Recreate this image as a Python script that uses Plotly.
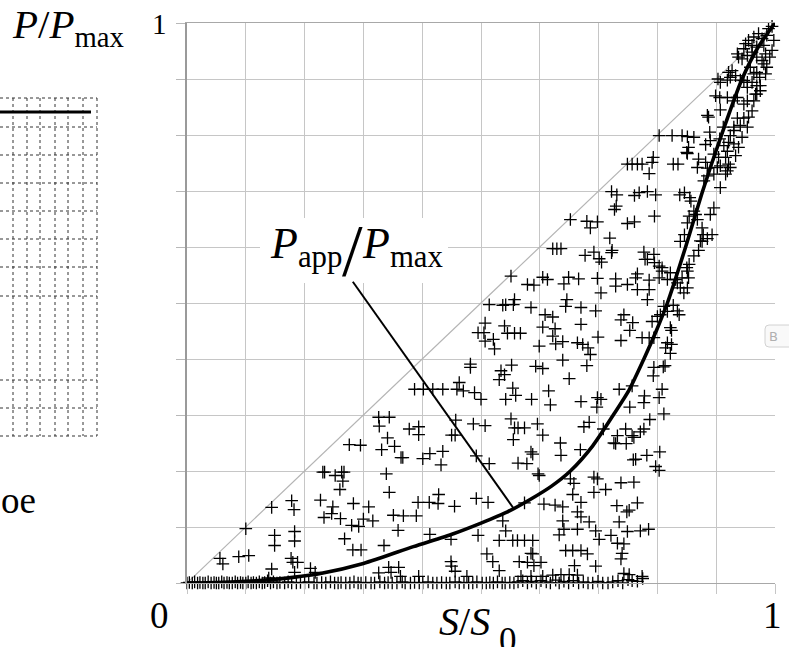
import plotly.graph_objects as go

# ---------------- data ----------------
# approximation curve P_app/P_max versus S/S0
curve_s = [0.0, 0.05, 0.10, 0.13, 0.18, 0.227, 0.30, 0.385, 0.453, 0.50, 0.545, 0.585,
           0.62, 0.652, 0.69, 0.725, 0.752, 0.777, 0.798, 0.817, 0.848, 0.877, 0.909,
           0.944, 0.972, 1.0]
curve_p = [0.0, 0.001, 0.003, 0.005, 0.010, 0.017, 0.035, 0.065, 0.088, 0.107, 0.127, 0.150,
           0.173, 0.200, 0.245, 0.300, 0.345, 0.400, 0.450, 0.500, 0.600, 0.700, 0.800,
           0.900, 0.958, 1.0]

# reference diagonal P = S
diag_s = [0.0, 1.0]
diag_p = [0.0, 1.0]

# points lying on the bottom row (P = 0)
row_s = [0.0, 0.004, 0.009, 0.013, 0.018, 0.022, 0.027, 0.031, 0.036, 0.041, 0.046, 0.05,
         0.054, 0.059, 0.063, 0.068, 0.072, 0.077, 0.082, 0.086, 0.091, 0.095, 0.1, 0.104,
         0.109, 0.113, 0.118, 0.123, 0.128, 0.132, 0.137, 0.142, 0.147, 0.153, 0.158, 0.166,
         0.172, 0.178, 0.186, 0.193, 0.2, 0.207, 0.216, 0.221, 0.229, 0.236, 0.244, 0.251,
         0.257, 0.262, 0.27, 0.277, 0.284, 0.291, 0.296, 0.304, 0.313, 0.319, 0.328, 0.336,
         0.342, 0.349, 0.357, 0.366, 0.371, 0.38, 0.387, 0.395, 0.401, 0.41, 0.418, 0.425,
         0.433, 0.441, 0.447, 0.456, 0.463, 0.471, 0.479, 0.486, 0.493, 0.502, 0.509, 0.515,
         0.521, 0.528, 0.536, 0.541, 0.549, 0.556, 0.563, 0.571, 0.579, 0.586, 0.594, 0.602,
         0.611, 0.618, 0.627, 0.633, 0.641, 0.649, 0.657, 0.666, 0.674, 0.682, 0.69, 0.699,
         0.707, 0.716, 0.724, 0.733, 0.741, 0.75, 0.757, 0.766, 0.775]
row_p = [0.0, 0.001, 0.0, 0.002, 0.0, 0.001, 0.0, 0.0, 0.002, 0.0, 0.001, 0.0,
         0.0, 0.002, 0.0, 0.001, 0.0, 0.0, 0.002, 0.0, 0.001, 0.0, 0.0, 0.002,
         0.0, 0.001, 0.0, 0.002, 0.0, 0.001, 0.004, 0.0, 0.002, 0.0, 0.001, 0.0,
         0.002, 0.0, 0.0, 0.001, 0.0, 0.002, 0.0, 0.0, 0.001, 0.0, 0.002, 0.0,
         0.0, 0.001, 0.0, 0.0, 0.002, 0.0, 0.0, 0.001, 0.0, 0.0, 0.002, 0.0,
         0.001, 0.0, 0.0, 0.002, 0.0, 0.0, 0.001, 0.0, 0.0, 0.002, 0.0, 0.0,
         0.001, 0.0, 0.0, 0.002, 0.0, 0.001, 0.0, 0.0, 0.002, 0.0, 0.0, 0.001,
         0.0, 0.002, 0.0, 0.0, 0.001, 0.0, 0.002, 0.004, 0.0, 0.003, 0.0, 0.004,
         0.002, 0.0, 0.005, 0.0, 0.003, 0.0, 0.004, 0.0, 0.002, 0.0, 0.0, 0.003,
         0.0, 0.0, 0.002, 0.004, 0.0, 0.006, 0.004, 0.003, 0.008]

# scattered points, lower-left part of the triangle  [S/S0, P/Pmax]
cloud_low = [
    [0.056, 0.044], [0.061, 0.034], [0.088, 0.047], [0.105, 0.049], [0.100, 0.097],
    [0.144, 0.135], [0.149, 0.085], [0.149, 0.067], [0.144, 0.025], [0.139, 0.009],
    [0.178, 0.147], [0.182, 0.131], [0.183, 0.092], [0.183, 0.075], [0.177, 0.044],
    [0.180, 0.037], [0.188, 0.037], [0.183, 0.019], [0.210, 0.026], [0.218, 0.019],
    [0.227, 0.148], [0.231, 0.198], [0.234, 0.198], [0.233, 0.117], [0.248, 0.136],
    [0.246, 0.124], [0.252, 0.192], [0.263, 0.198], [0.267, 0.198], [0.265, 0.182],
    [0.260, 0.167], [0.261, 0.115], [0.276, 0.247], [0.295, 0.246], [0.283, 0.142],
    [0.309, 0.136], [0.280, 0.103], [0.292, 0.101], [0.300, 0.114], [0.316, 0.111],
    [0.268, 0.079], [0.282, 0.059], [0.296, 0.059], [0.326, 0.296], [0.344, 0.296],
    [0.327, 0.280], [0.341, 0.259], [0.353, 0.244], [0.331, 0.238], [0.364, 0.224],
    [0.367, 0.224], [0.339, 0.195], [0.344, 0.162], [0.351, 0.121], [0.368, 0.120],
    [0.390, 0.120], [0.359, 0.094], [0.335, 0.067], [0.326, 0.018], [0.343, 0.028],
    [0.360, 0.028], [0.347, 0.019], [0.363, 0.012], [0.378, 0.275], [0.394, 0.279],
    [0.394, 0.265], [0.387, 0.346], [0.402, 0.346], [0.418, 0.346], [0.435, 0.346],
    [0.401, 0.222], [0.413, 0.231], [0.435, 0.235], [0.432, 0.211], [0.393, 0.144],
    [0.412, 0.144], [0.427, 0.142], [0.428, 0.158], [0.455, 0.137], [0.413, 0.087],
    [0.394, 0.012], [0.449, 0.078], [0.449, 0.038], [0.450, 0.030], [0.456, 0.021],
    [0.476, 0.012], [0.459, 0.346], [0.470, 0.343], [0.463, 0.358], [0.457, 0.291],
    [0.450, 0.264], [0.456, 0.264], [0.482, 0.391], [0.482, 0.385], [0.489, 0.340],
    [0.487, 0.284], [0.492, 0.227], [0.495, 0.447], [0.492, 0.151], [0.495, 0.085],
]

# scattered points, lower-right part (S/S0 0.5 .. 0.85, P/Pmax 0 .. 0.5)
cloud_mid = [
    [0.514, 0.497], [0.537, 0.496], [0.542, 0.497], [0.555, 0.497], [0.585, 0.492],
    [0.609, 0.479], [0.622, 0.475], [0.644, 0.494], [0.670, 0.492], [0.695, 0.486],
    [0.507, 0.464], [0.505, 0.447], [0.507, 0.432], [0.521, 0.435], [0.523, 0.418],
    [0.540, 0.459], [0.545, 0.446], [0.557, 0.446], [0.567, 0.446], [0.605, 0.457],
    [0.626, 0.454], [0.622, 0.441], [0.670, 0.462], [0.599, 0.423], [0.627, 0.427],
    [0.639, 0.431], [0.664, 0.429], [0.673, 0.426], [0.682, 0.420], [0.686, 0.408],
    [0.699, 0.439], [0.738, 0.470], [0.743, 0.479], [0.753, 0.451], [0.758, 0.465],
    [0.738, 0.433], [0.774, 0.438], [0.786, 0.438], [0.794, 0.438], [0.791, 0.467],
    [0.800, 0.476], [0.805, 0.479], [0.811, 0.494], [0.817, 0.485], [0.827, 0.496],
    [0.834, 0.486], [0.837, 0.479], [0.822, 0.456], [0.824, 0.451], [0.817, 0.429],
    [0.824, 0.426], [0.814, 0.420], [0.822, 0.410], [0.552, 0.389], [0.534, 0.379],
    [0.540, 0.372], [0.531, 0.363], [0.593, 0.387], [0.605, 0.383], [0.639, 0.398],
    [0.680, 0.388], [0.650, 0.365], [0.554, 0.348], [0.542, 0.328], [0.559, 0.335],
    [0.586, 0.328], [0.615, 0.343], [0.618, 0.318], [0.670, 0.324], [0.698, 0.331],
    [0.704, 0.328], [0.697, 0.314], [0.735, 0.346], [0.757, 0.352], [0.753, 0.314],
    [0.778, 0.334], [0.777, 0.322], [0.794, 0.385], [0.810, 0.386], [0.813, 0.388],
    [0.793, 0.370], [0.808, 0.346], [0.803, 0.331], [0.811, 0.302], [0.500, 0.328],
    [0.507, 0.281], [0.551, 0.293], [0.557, 0.277], [0.563, 0.277], [0.574, 0.277],
    [0.555, 0.256], [0.596, 0.284], [0.605, 0.264], [0.635, 0.250], [0.636, 0.228],
    [0.669, 0.238], [0.585, 0.234], [0.588, 0.230], [0.675, 0.279], [0.684, 0.287],
    [0.708, 0.275], [0.732, 0.263], [0.726, 0.250], [0.729, 0.249], [0.747, 0.249],
    [0.757, 0.263], [0.760, 0.260], [0.771, 0.270], [0.777, 0.275], [0.787, 0.292],
    [0.746, 0.275], [0.759, 0.220], [0.763, 0.221], [0.782, 0.228], [0.804, 0.234],
    [0.797, 0.208], [0.803, 0.201], [0.514, 0.213], [0.563, 0.214], [0.578, 0.213],
    [0.597, 0.195], [0.599, 0.192], [0.652, 0.186], [0.658, 0.178], [0.692, 0.189],
    [0.698, 0.186], [0.712, 0.167], [0.692, 0.162], [0.656, 0.158], [0.738, 0.179],
    [0.760, 0.180], [0.512, 0.144], [0.574, 0.143], [0.607, 0.141], [0.626, 0.139],
    [0.639, 0.136], [0.670, 0.144], [0.664, 0.127], [0.670, 0.118], [0.684, 0.109],
    [0.639, 0.111], [0.731, 0.138], [0.748, 0.127], [0.752, 0.130], [0.766, 0.143],
    [0.735, 0.109], [0.537, 0.111], [0.542, 0.093], [0.633, 0.086], [0.641, 0.096],
    [0.664, 0.096], [0.695, 0.093], [0.701, 0.078], [0.721, 0.085], [0.732, 0.071],
    [0.743, 0.070], [0.749, 0.092], [0.771, 0.093], [0.785, 0.096], [0.531, 0.076],
    [0.554, 0.076], [0.562, 0.076], [0.574, 0.076], [0.588, 0.076], [0.510, 0.052],
    [0.520, 0.038], [0.565, 0.038], [0.579, 0.037], [0.590, 0.031], [0.602, 0.037],
    [0.585, 0.053], [0.588, 0.052], [0.644, 0.058], [0.656, 0.058], [0.670, 0.058],
    [0.681, 0.052], [0.740, 0.053], [0.738, 0.043], [0.659, 0.031], [0.695, 0.030],
    [0.531, 0.022], [0.568, 0.012], [0.585, 0.012], [0.605, 0.012], [0.622, 0.014],
    [0.636, 0.015], [0.650, 0.015], [0.664, 0.014], [0.743, 0.017], [0.752, 0.015],
    [0.774, 0.012],
]

# scattered points, upper-right part (P/Pmax 0.5 .. 1)
cloud_high = [
    [0.551, 0.548], [0.579, 0.533], [0.590, 0.532], [0.605, 0.546], [0.613, 0.542],
    [0.641, 0.534], [0.649, 0.546], [0.666, 0.543], [0.698, 0.544], [0.704, 0.518],
    [0.729, 0.543], [0.729, 0.530], [0.749, 0.533], [0.763, 0.545], [0.766, 0.524],
    [0.786, 0.524], [0.783, 0.506], [0.557, 0.506], [0.646, 0.506], [0.622, 0.597],
    [0.629, 0.597], [0.636, 0.597], [0.677, 0.585], [0.692, 0.591], [0.701, 0.579],
    [0.705, 0.573], [0.723, 0.594], [0.722, 0.590], [0.777, 0.591], [0.779, 0.578],
    [0.783, 0.578], [0.794, 0.587], [0.795, 0.572], [0.803, 0.566], [0.808, 0.563],
    [0.766, 0.552], [0.786, 0.541], [0.803, 0.545], [0.817, 0.542], [0.808, 0.557],
    [0.822, 0.554], [0.831, 0.542], [0.834, 0.536], [0.839, 0.527], [0.845, 0.518],
    [0.851, 0.527], [0.853, 0.545], [0.851, 0.557], [0.719, 0.616], [0.652, 0.649],
    [0.680, 0.646], [0.698, 0.645], [0.686, 0.634], [0.795, 0.655], [0.761, 0.645],
    [0.749, 0.642], [0.730, 0.673], [0.727, 0.667], [0.722, 0.699], [0.731, 0.693],
    [0.761, 0.692], [0.769, 0.697], [0.783, 0.699], [0.797, 0.693], [0.838, 0.693],
    [0.855, 0.688], [0.857, 0.682], [0.846, 0.697], [0.854, 0.655], [0.862, 0.664],
    [0.868, 0.649], [0.876, 0.634], [0.893, 0.622], [0.885, 0.615], [0.876, 0.610],
    [0.839, 0.610], [0.846, 0.622], [0.851, 0.643], [0.865, 0.658], [0.749, 0.748],
    [0.757, 0.748], [0.766, 0.748], [0.774, 0.748], [0.791, 0.751], [0.786, 0.731],
    [0.793, 0.760], [0.827, 0.748], [0.835, 0.748], [0.803, 0.799], [0.825, 0.799],
    [0.842, 0.799], [0.851, 0.797], [0.862, 0.796], [0.853, 0.778], [0.850, 0.769],
    [0.851, 0.767], [0.870, 0.757], [0.868, 0.742], [0.882, 0.751], [0.885, 0.741],
    [0.885, 0.727], [0.879, 0.718], [0.896, 0.730], [0.902, 0.742], [0.907, 0.745],
    [0.904, 0.760], [0.896, 0.766], [0.882, 0.783], [0.890, 0.790], [0.889, 0.805],
    [0.885, 0.835], [0.887, 0.832], [0.906, 0.793], [0.913, 0.781], [0.919, 0.771],
    [0.921, 0.787], [0.930, 0.784], [0.924, 0.799], [0.930, 0.808], [0.916, 0.760],
    [0.921, 0.748], [0.919, 0.736], [0.912, 0.814], [0.930, 0.814], [0.947, 0.830],
    [0.941, 0.817], [0.936, 0.830], [0.899, 0.870], [0.906, 0.867], [0.919, 0.867],
    [0.930, 0.861], [0.936, 0.867], [0.947, 0.855], [0.953, 0.861], [0.907, 0.845],
    [0.903, 0.900], [0.907, 0.894], [0.919, 0.898], [0.921, 0.912], [0.927, 0.915],
    [0.933, 0.906], [0.924, 0.903], [0.941, 0.898], [0.947, 0.897], [0.953, 0.894],
    [0.953, 0.885], [0.958, 0.921], [0.964, 0.909], [0.961, 0.894], [0.969, 0.912],
    [0.969, 0.888], [0.975, 0.879], [0.967, 0.873], [0.974, 0.903], [0.936, 0.945],
    [0.938, 0.939], [0.944, 0.936], [0.953, 0.942], [0.961, 0.948], [0.969, 0.939],
    [0.978, 0.933], [0.984, 0.945], [0.981, 0.927], [0.950, 0.963], [0.955, 0.969],
    [0.964, 0.975], [0.972, 0.981], [0.978, 0.972], [0.986, 0.978], [0.989, 0.990],
    [0.995, 0.994], [0.981, 0.960], [0.969, 0.957], [0.961, 0.960], [0.947, 0.954],
]

# points hugging the right side of the curve
curve_side = [
    [0.842, 0.545], [0.850, 0.563], [0.854, 0.569], [0.862, 0.584], [0.870, 0.594],
    [0.873, 0.611], [0.878, 0.622], [0.890, 0.658], [0.896, 0.670], [0.907, 0.706],
    [0.916, 0.730], [0.924, 0.742], [0.933, 0.763], [0.938, 0.778], [0.944, 0.796],
    [0.953, 0.814], [0.955, 0.832], [0.961, 0.843], [0.964, 0.861], [0.969, 0.873],
    [0.975, 0.888], [0.984, 0.909], [0.986, 0.921], [0.991, 0.939], [0.995, 0.951],
    [0.998, 0.969],
]

pts = cloud_low + cloud_mid + cloud_high + curve_side
cloud_s = [p[0] for p in pts]
cloud_p = [p[1] for p in pts]

# ---------------- figure ----------------
W, H = 789, 647
PL, PR, PT, PB = 187, 775, 23, 583   # plot box in pixels


def pxx(xp):
    return xp / W


def pyy(yp):
    return (H - yp) / H


SERIF = "Liberation Serif, Times New Roman, serif"
GRID = "#c6c6c6"

fig = go.Figure()

fig.add_trace(go.Scatter(x=diag_s, y=diag_p, mode="lines",
                         line=dict(color="#b4b4b4", width=1.2),
                         hoverinfo="skip", showlegend=False))

marker = dict(symbol="cross-thin", size=9, color="black",
              line=dict(color="black", width=1.3))
fig.add_trace(go.Scatter(x=row_s, y=row_p, mode="markers", marker=marker,
                         cliponaxis=False, showlegend=False))
fig.add_trace(go.Scatter(x=cloud_s, y=cloud_p, mode="markers", marker=marker,
                         cliponaxis=False, showlegend=False))

fig.add_trace(go.Scatter(x=curve_s, y=curve_p, mode="lines",
                         line=dict(color="black", width=3.6, shape="spline", smoothing=0.7),
                         cliponaxis=False, showlegend=False))

shapes = []
# white backdrop behind the curve label
shapes.append(dict(type="rect", xref="paper", yref="paper",
                   x0=pxx(260), x1=pxx(448), y0=pyy(283), y1=pyy(218),
                   fillcolor="white", line=dict(width=0), layer="above"))
# leader line from label to curve
shapes.append(dict(type="line", xref="x", yref="y",
                   x0=0.282, y0=0.538, x1=0.555, y1=0.134,
                   line=dict(color="black", width=2), layer="above"))

# fragment of a dotted table at the left edge
tab_rows = [98, 127, 155, 183, 211, 239, 267, 296, 380, 408, 436]
tab_cols = [13, 27, 40, 55, 68, 83, 97]
for yr in tab_rows:
    shapes.append(dict(type="line", xref="paper", yref="paper",
                       x0=pxx(0), x1=pxx(97), y0=pyy(yr), y1=pyy(yr),
                       line=dict(color="#333", width=1, dash="dot")))
for xc in tab_cols:
    shapes.append(dict(type="line", xref="paper", yref="paper",
                       x0=pxx(xc), x1=pxx(xc), y0=pyy(98), y1=pyy(436),
                       line=dict(color="#333", width=1, dash="dot")))
shapes.append(dict(type="line", xref="paper", yref="paper",
                   x0=pxx(0), x1=pxx(91), y0=pyy(112), y1=pyy(112),
                   line=dict(color="black", width=3)))

# small button fragment at the right edge
bx0, bx1, by0, by1, rr = 765, 800, 325, 347, 4
shapes.append(dict(type="path", xref="paper", yref="paper",
                   path=(f"M {pxx(bx0+rr)},{pyy(by0)} L {pxx(bx1)},{pyy(by0)} "
                         f"L {pxx(bx1)},{pyy(by1)} L {pxx(bx0+rr)},{pyy(by1)} "
                         f"Q {pxx(bx0)},{pyy(by1)} {pxx(bx0)},{pyy(by1-rr)} "
                         f"L {pxx(bx0)},{pyy(by0+rr)} Q {pxx(bx0)},{pyy(by0)} {pxx(bx0+rr)},{pyy(by0)} Z"),
                   fillcolor="rgba(248,248,248,0.9)", line=dict(color="#d2d2d2", width=1),
                   layer="above"))


def ann(text, x, y, size, xanchor="center", yanchor="middle", color="black", family=SERIF):
    return dict(text=text, x=pxx(x), y=pyy(y), xref="paper", yref="paper",
                xanchor=xanchor, yanchor=yanchor, showarrow=False,
                font=dict(family=family, size=size, color=color))


annotations = [
    ann("<i>P</i>/<i>P</i><sub>max</sub>", 10, 27, 41, xanchor="left"),
    ann("1", 159, 24, 29),
    ann("0", 159, 615, 37),
    ann("1", 772, 615, 37),
    # S / S0
    ann("<i>S</i>/<i>S</i>", 437, 621, 40, xanchor="left"),
    ann("0", 497, 640, 35, xanchor="left"),
    # P_app / P_max label
    ann("<i>P</i><sub>app</sub>", 268, 246, 44, xanchor="left"),
    ann("/", 352, 251, 74),
    ann("<i>P</i><sub>max</sub>", 360, 246, 44, xanchor="left"),
    ann("oe", -1, 500, 37, xanchor="left"),
    ann("B", 773, 336, 13, color="#b0b0b0", family="DejaVu Sans"),
]

fig.update_layout(
    width=W, height=H,
    margin=dict(l=0, r=0, t=0, b=0, pad=0),
    paper_bgcolor="white", plot_bgcolor="white",
    showlegend=False,
    shapes=shapes, annotations=annotations,
    xaxis=dict(domain=[PL / W, PR / W], range=[0, 1], dtick=0.1, tick0=0,
               showgrid=True, gridcolor=GRID, gridwidth=1,
               zeroline=False, showticklabels=False, ticks="outside", ticklen=10,
               tickcolor=GRID, tickwidth=1, showline=True, linecolor="#a8a8a8", linewidth=1,
               mirror=True, fixedrange=True),
    yaxis=dict(domain=[(H - PB) / H, (H - PT) / H], range=[0, 1], dtick=0.1, tick0=0,
               showgrid=True, gridcolor=GRID, gridwidth=1,
               zeroline=False, showticklabels=False, ticks="outside", ticklen=9,
               tickcolor="#b8b8b8", tickwidth=1, showline=True, linecolor="#9a9a9a",
               linewidth=1.5, mirror=False, fixedrange=True),
)

fig.write_html("out.html")
